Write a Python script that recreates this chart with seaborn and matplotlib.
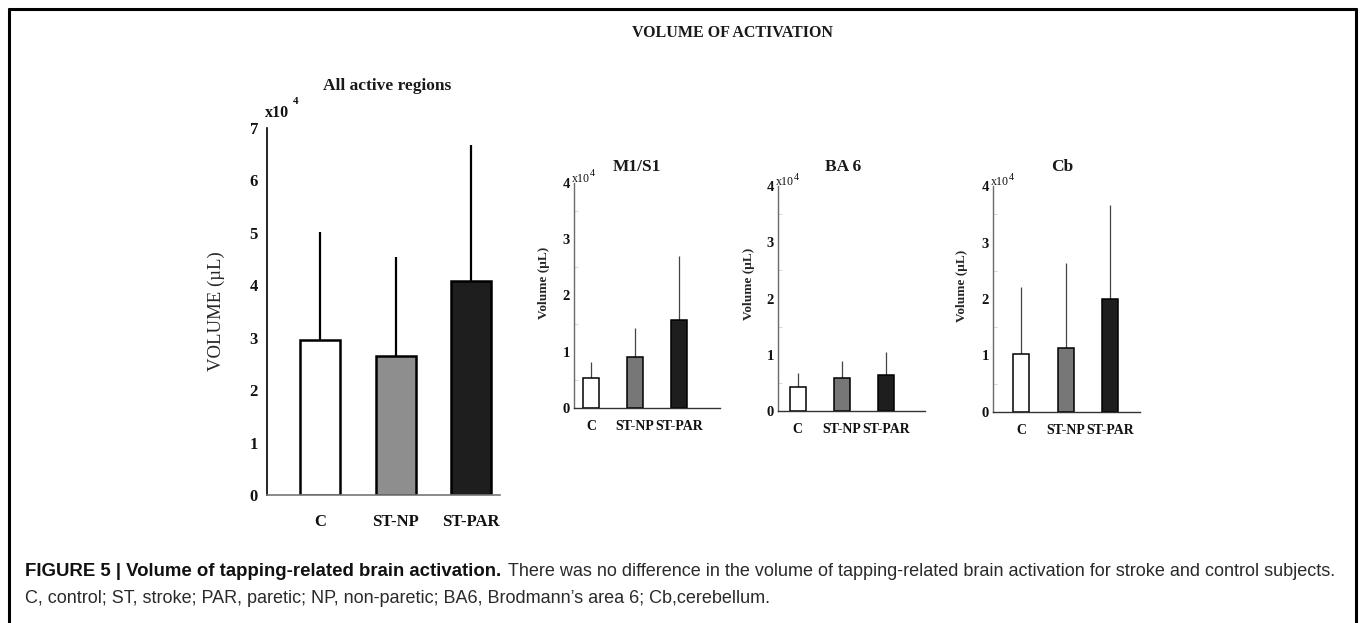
import matplotlib
matplotlib.use("Agg")
import matplotlib.pyplot as plt
import seaborn as sns
import numpy as np
from matplotlib.lines import Line2D
from matplotlib.ticker import MultipleLocator

# ---------------- data (values in units of 10^4 µL) ----------------
groups = ["C", "ST-NP", "ST-PAR"]

all_mean = [2.95, 2.65, 4.08]
all_upper = [5.02, 4.54, 6.68]

m1_mean = [0.53, 0.91, 1.56]
m1_upper = [0.82, 1.42, 2.70]

ba6_mean = [0.43, 0.58, 0.64]
ba6_upper = [0.68, 0.89, 1.05]

cb_mean = [1.02, 1.13, 2.00]
cb_upper = [2.21, 2.63, 3.66]

main_ticks = [0, 1, 2, 3, 4, 5, 6, 7]
small_ticks = [0, 1, 2, 3, 4]

main_title = "VOLUME OF ACTIVATION"
panel_titles = ["All active regions", "M1/S1", "BA 6", "Cb"]
caption_bold = "FIGURE 5 | Volume of tapping-related brain activation."
caption_rest = ("There was no difference in the volume of tapping-related brain "
                "activation for stroke and control subjects.")
caption_line2 = ("C, control; ST, stroke; PAR, paretic; NP, non-paretic; BA6, "
                 "Brodmann\u2019s area 6; Cb,cerebellum.")

main_colors = ["#ffffff", "#8e8e8e", "#1e1e1e"]
small_colors = ["#ffffff", "#777777", "#1e1e1e"]

# ---------------- figure ----------------
sns.set_style("white")
plt.rcParams["font.family"] = ["Liberation Serif", "DejaVu Serif"]

W, H = 1360, 623
fig = plt.figure(figsize=(W / 100, H / 100), dpi=100)


def P(x, y):
    return (x / W, 1 - y / H)


def rect(l, t, r, b):
    return [l / W, 1 - b / H, (r - l) / W, (b - t) / H]


SERIF = ["Liberation Serif", "DejaVu Serif"]
SANS = ["Liberation Sans", "DejaVu Sans"]


def draw_panel(ax, means, uppers, colors, width, ylim, ticks, xlim,
               edge_lw, err_lw, err_color, tick_fs, xlab_fs, ypad, xpad,
               left_color, bottom_color, spine_lw, minor=False):
    sns.barplot(x=groups, y=means, hue=groups, palette=colors, legend=False,
                width=width, edgecolor="black", linewidth=edge_lw,
                errorbar=None, ax=ax, zorder=2)
    lower = [0, 0, 0]
    upper = [u - m for u, m in zip(uppers, means)]
    ax.errorbar(range(len(groups)), means, yerr=[lower, upper], fmt="none",
                ecolor=err_color, elinewidth=err_lw, capsize=0, zorder=1)
    ax.set_ylim(*ylim)
    ax.set_xlim(*xlim)
    ax.set_yticks(ticks)
    ax.set_yticklabels([str(t) for t in ticks], fontsize=tick_fs,
                       fontweight="bold", family=SERIF)
    ax.set_xticks(range(len(groups)))
    ax.set_xticklabels(groups, fontsize=xlab_fs, fontweight="bold", family=SERIF)
    ax.tick_params(axis="y", length=0, pad=ypad, colors="#111111")
    ax.tick_params(axis="x", length=0, pad=xpad, colors="#111111")
    if minor:
        ax.yaxis.set_minor_locator(MultipleLocator(0.5))
        ax.tick_params(axis="y", which="minor", direction="in", length=3,
                       width=0.6, color="#cfcfcf", left=True)
    ax.set_xlabel("")
    ax.set_ylabel("")
    for s in ["top", "right"]:
        ax.spines[s].set_visible(False)
    ax.spines["left"].set_color(left_color)
    ax.spines["bottom"].set_color(bottom_color)
    ax.spines["left"].set_linewidth(spine_lw)
    ax.spines["bottom"].set_linewidth(spine_lw)
    ax.set_facecolor("none")


# main panel
ax0 = fig.add_axes(rect(267, 128, 500, 495))
draw_panel(ax0, all_mean, all_upper, main_colors, 0.53, (0, 7), main_ticks,
           (-0.70, 2.38), 1.8, 1.6, "black", 12, 12, 6.5, 14,
           "black", "#777777", 1.2)
ax0.set_ylabel("VOLUME (\u00b5L)", fontsize=13.5, family=SERIF)
ax0.yaxis.set_label_coords(-0.18, 0.5)

# small panels
small_specs = [
    (rect(574, 183, 720, 408), m1_mean, m1_upper, (-0.39, 2.93), 574, 183),
    (rect(778, 186, 925, 411), ba6_mean, ba6_upper, (-0.45, 2.89), 778, 186),
    (rect(993, 186, 1140, 412), cb_mean, cb_upper, (-0.63, 2.67), 993, 186),
]
ylab_x = [-0.164, -0.156, -0.17]
ylab_y = [0.556, 0.564, 0.557]
for i, (r, mm, uu, xl, lx, ty) in enumerate(small_specs):
    ax = fig.add_axes(r)
    draw_panel(ax, mm, uu, small_colors, 0.36, (0, 4), small_ticks, xl,
               1.1, 0.9, "#444444", 10.5, 10.0, 3, 8.6,
               "#6a6a6a", "#333333", 1.0, minor=True)
    ax.set_ylabel("Volume (\u00b5L)", fontsize=9.6, fontweight="bold",
                  family=SERIF)
    ax.yaxis.set_label_coords(ylab_x[i], ylab_y[i])
    # x10^4 marker
    fig.text(*P(lx - 2, ty - 4), "x10", fontsize=8.6, family=SERIF,
             ha="left", va="center", color="#111111")
    fig.text(*P(lx + 16, ty - 9), "4", fontsize=7.2, family=SERIF,
             ha="left", va="center", color="#111111")

# main x10^4 marker
fig.text(*P(265, 113), "x10", fontsize=11.5, fontweight="bold", family=SERIF,
         ha="left", va="center", color="#111111")
fig.text(*P(293, 102), "4", fontsize=8, fontweight="bold", family=SERIF,
         ha="left", va="center", color="#111111")

# titles
fig.text(*P(732, 33), main_title, fontsize=11.5, fontweight="bold",
         family=SERIF, ha="center", va="center", color="#1a1a1a")
title_pos = [(387, 86), (637, 167), (843, 167), (1062, 167)]
for t, (x, y) in zip(panel_titles, title_pos):
    fig.text(*P(x, y), t, fontsize=12.5, fontweight="bold", family=SERIF,
             ha="center", va="center", color="#1a1a1a")

# border (three sides, open at bottom)
lw_b = 2.2
fig.add_artist(Line2D([9 / W, 9 / W], [0, 1 - 9 / H], transform=fig.transFigure,
                      color="black", lw=lw_b))
fig.add_artist(Line2D([9 / W, 1356 / W], [1 - 9 / H, 1 - 9 / H],
                      transform=fig.transFigure, color="black", lw=lw_b))
fig.add_artist(Line2D([1356 / W, 1356 / W], [0, 1 - 9 / H],
                      transform=fig.transFigure, color="black", lw=lw_b))

# caption: fit the bold and regular parts to their widths in the reference
renderer = fig.canvas.get_renderer()
fs = 10.0
tb = fig.text(*P(25, 576), caption_bold, fontsize=fs, fontweight="bold",
              family=SANS, ha="left", va="baseline", color="#111111")
tr = fig.text(*P(508, 576), caption_rest, fontsize=fs, family=SANS,
              ha="left", va="baseline", color="#2a2a2a")
wb = tb.get_window_extent(renderer).width
wr = tr.get_window_extent(renderer).width
tb.set_fontsize(fs * (503 - 25) / wb)
fr = fs * (1338 - 508) / wr
tr.set_fontsize(fr)
fig.text(*P(25, 603), caption_line2, fontsize=fr, family=SANS,
         ha="left", va="baseline", color="#2a2a2a")

fig.savefig("out.png", dpi=100, facecolor="white")
